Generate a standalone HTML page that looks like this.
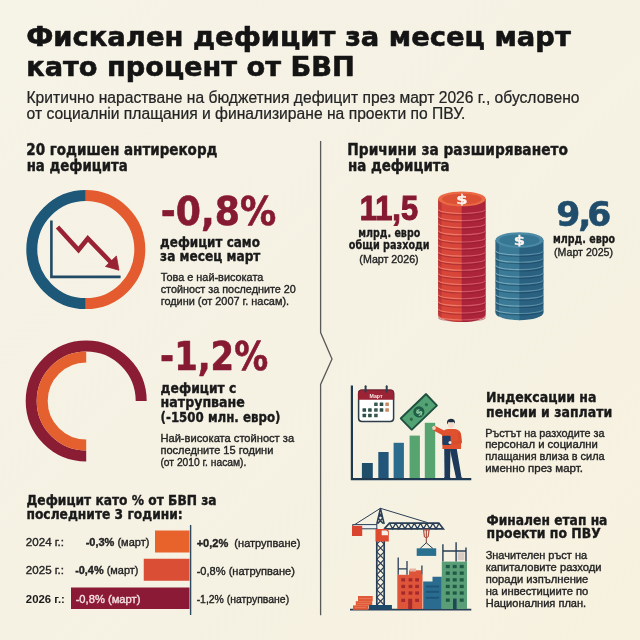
<!DOCTYPE html>
<html lang="bg"><head><meta charset="utf-8"><title>Фискален дефицит за месец март</title>
<style>html,body{margin:0;padding:0;background:#f5f2e5;}svg{display:block}</style></head>
<body>
<svg width="640" height="640" viewBox="0 0 640 640">
<defs><linearGradient id="bgg" x1="0" y1="0" x2="1" y2="1"><stop offset="0" stop-color="#f6f3e7"/><stop offset="0.5" stop-color="#f5f2e4"/><stop offset="1" stop-color="#f7f1df"/></linearGradient></defs>
<rect width="640" height="640" fill="url(#bgg)"/>
<path d="M320.6 141 V332.5 L332 359 L320.6 384.5 V615.3" fill="none" stroke="#5a5a58" stroke-width="1.3"/>
<path d="M85.80 303.60 A54 54 0 0 1 85.80 195.60" fill="none" stroke="#1e5878" stroke-width="11"/>
<path d="M85.80 195.60 A54 54 0 0 1 85.80 303.60" fill="none" stroke="#e45b2f" stroke-width="11"/>
<path d="M51.4 220.6 V276.9 H120.6" fill="none" stroke="#234a64" stroke-width="2.6"/>
<path d="M57.5 227 L78.5 250 L87.8 238.5 L112 263.5" fill="none" stroke="#992334" stroke-width="4.6" stroke-linejoin="miter"/>
<path d="M105.4 266.4 L116.4 256 L119 270.2 Z" fill="#992334" stroke="#992334" stroke-width="0.8" stroke-linejoin="round"/>
<path d="M86.20 456.00 A55 55 0 1 1 141.20 401.00" fill="none" stroke="#8a1c34" stroke-width="11"/>
<path d="M86.20 445.00 A44 44 0 0 1 86.20 357.00" fill="none" stroke="#e4602f" stroke-width="11"/>
<rect x="155" y="530.5" width="34.5" height="22" fill="#e8622c"/>
<rect x="143.75" y="558.75" width="45.75" height="22" fill="#d94e34"/>
<rect x="71" y="587.5" width="118.5" height="21.5" fill="#8a1a35"/>
<line x1="190.6" y1="525" x2="190.6" y2="615" stroke="#2e4a60" stroke-width="1.4"/>
<path d="M438.09999999999997 198.9 V314.6 A23.8 7.4 0 0 0 461.9 322.0 V198.9 Z" fill="#d8463a"/>
<path d="M461.5 198.9 V322.0 L461.9 322.0 A23.8 7.4 0 0 0 485.7 314.6 V198.9 Z" fill="#ab2439"/>
<path d="M438.09999999999997 198.9 V314.6 A23.8 7.4 0 0 0 441.59999999999997 319.04 V198.9 Z" fill="#a52a33" opacity="0.5"/>
<path d="M438.49999999999994 210.90 A23.400000000000002 4.0 0 0 0 485.3 210.90" fill="none" stroke="#8e1d2c" stroke-width="1.2" opacity="0.45"/>
<path d="M438.49999999999994 209.50 A23.400000000000002 4.0 0 0 0 461.9 213.50" fill="none" stroke="#ef7d69" stroke-width="1.05" opacity="0.9"/>
<path d="M461.9 213.50 A23.400000000000002 4.0 0 0 0 485.3 209.50" fill="none" stroke="#d9586a" stroke-width="1.05" opacity="0.9"/>
<path d="M438.49999999999994 218.00 A23.400000000000002 4.0 0 0 0 485.3 218.00" fill="none" stroke="#8e1d2c" stroke-width="1.2" opacity="0.45"/>
<path d="M438.49999999999994 216.60 A23.400000000000002 4.0 0 0 0 461.9 220.60" fill="none" stroke="#ef7d69" stroke-width="1.05" opacity="0.9"/>
<path d="M461.9 220.60 A23.400000000000002 4.0 0 0 0 485.3 216.60" fill="none" stroke="#d9586a" stroke-width="1.05" opacity="0.9"/>
<path d="M438.49999999999994 225.10 A23.400000000000002 4.0 0 0 0 485.3 225.10" fill="none" stroke="#8e1d2c" stroke-width="1.2" opacity="0.45"/>
<path d="M438.49999999999994 223.70 A23.400000000000002 4.0 0 0 0 461.9 227.70" fill="none" stroke="#ef7d69" stroke-width="1.05" opacity="0.9"/>
<path d="M461.9 227.70 A23.400000000000002 4.0 0 0 0 485.3 223.70" fill="none" stroke="#d9586a" stroke-width="1.05" opacity="0.9"/>
<path d="M438.49999999999994 232.20 A23.400000000000002 4.0 0 0 0 485.3 232.20" fill="none" stroke="#8e1d2c" stroke-width="1.2" opacity="0.45"/>
<path d="M438.49999999999994 230.80 A23.400000000000002 4.0 0 0 0 461.9 234.80" fill="none" stroke="#ef7d69" stroke-width="1.05" opacity="0.9"/>
<path d="M461.9 234.80 A23.400000000000002 4.0 0 0 0 485.3 230.80" fill="none" stroke="#d9586a" stroke-width="1.05" opacity="0.9"/>
<path d="M438.49999999999994 239.30 A23.400000000000002 4.0 0 0 0 485.3 239.30" fill="none" stroke="#8e1d2c" stroke-width="1.2" opacity="0.45"/>
<path d="M438.49999999999994 237.90 A23.400000000000002 4.0 0 0 0 461.9 241.90" fill="none" stroke="#ef7d69" stroke-width="1.05" opacity="0.9"/>
<path d="M461.9 241.90 A23.400000000000002 4.0 0 0 0 485.3 237.90" fill="none" stroke="#d9586a" stroke-width="1.05" opacity="0.9"/>
<path d="M438.49999999999994 246.40 A23.400000000000002 4.0 0 0 0 485.3 246.40" fill="none" stroke="#8e1d2c" stroke-width="1.2" opacity="0.45"/>
<path d="M438.49999999999994 245.00 A23.400000000000002 4.0 0 0 0 461.9 249.00" fill="none" stroke="#ef7d69" stroke-width="1.05" opacity="0.9"/>
<path d="M461.9 249.00 A23.400000000000002 4.0 0 0 0 485.3 245.00" fill="none" stroke="#d9586a" stroke-width="1.05" opacity="0.9"/>
<path d="M438.49999999999994 253.50 A23.400000000000002 4.0 0 0 0 485.3 253.50" fill="none" stroke="#8e1d2c" stroke-width="1.2" opacity="0.45"/>
<path d="M438.49999999999994 252.10 A23.400000000000002 4.0 0 0 0 461.9 256.10" fill="none" stroke="#ef7d69" stroke-width="1.05" opacity="0.9"/>
<path d="M461.9 256.10 A23.400000000000002 4.0 0 0 0 485.3 252.10" fill="none" stroke="#d9586a" stroke-width="1.05" opacity="0.9"/>
<path d="M438.49999999999994 260.60 A23.400000000000002 4.0 0 0 0 485.3 260.60" fill="none" stroke="#8e1d2c" stroke-width="1.2" opacity="0.45"/>
<path d="M438.49999999999994 259.20 A23.400000000000002 4.0 0 0 0 461.9 263.20" fill="none" stroke="#ef7d69" stroke-width="1.05" opacity="0.9"/>
<path d="M461.9 263.20 A23.400000000000002 4.0 0 0 0 485.3 259.20" fill="none" stroke="#d9586a" stroke-width="1.05" opacity="0.9"/>
<path d="M438.49999999999994 267.70 A23.400000000000002 4.0 0 0 0 485.3 267.70" fill="none" stroke="#8e1d2c" stroke-width="1.2" opacity="0.45"/>
<path d="M438.49999999999994 266.30 A23.400000000000002 4.0 0 0 0 461.9 270.30" fill="none" stroke="#ef7d69" stroke-width="1.05" opacity="0.9"/>
<path d="M461.9 270.30 A23.400000000000002 4.0 0 0 0 485.3 266.30" fill="none" stroke="#d9586a" stroke-width="1.05" opacity="0.9"/>
<path d="M438.49999999999994 274.80 A23.400000000000002 4.0 0 0 0 485.3 274.80" fill="none" stroke="#8e1d2c" stroke-width="1.2" opacity="0.45"/>
<path d="M438.49999999999994 273.40 A23.400000000000002 4.0 0 0 0 461.9 277.40" fill="none" stroke="#ef7d69" stroke-width="1.05" opacity="0.9"/>
<path d="M461.9 277.40 A23.400000000000002 4.0 0 0 0 485.3 273.40" fill="none" stroke="#d9586a" stroke-width="1.05" opacity="0.9"/>
<path d="M438.49999999999994 281.90 A23.400000000000002 4.0 0 0 0 485.3 281.90" fill="none" stroke="#8e1d2c" stroke-width="1.2" opacity="0.45"/>
<path d="M438.49999999999994 280.50 A23.400000000000002 4.0 0 0 0 461.9 284.50" fill="none" stroke="#ef7d69" stroke-width="1.05" opacity="0.9"/>
<path d="M461.9 284.50 A23.400000000000002 4.0 0 0 0 485.3 280.50" fill="none" stroke="#d9586a" stroke-width="1.05" opacity="0.9"/>
<path d="M438.49999999999994 289.00 A23.400000000000002 4.0 0 0 0 485.3 289.00" fill="none" stroke="#8e1d2c" stroke-width="1.2" opacity="0.45"/>
<path d="M438.49999999999994 287.60 A23.400000000000002 4.0 0 0 0 461.9 291.60" fill="none" stroke="#ef7d69" stroke-width="1.05" opacity="0.9"/>
<path d="M461.9 291.60 A23.400000000000002 4.0 0 0 0 485.3 287.60" fill="none" stroke="#d9586a" stroke-width="1.05" opacity="0.9"/>
<path d="M438.49999999999994 296.10 A23.400000000000002 4.0 0 0 0 485.3 296.10" fill="none" stroke="#8e1d2c" stroke-width="1.2" opacity="0.45"/>
<path d="M438.49999999999994 294.70 A23.400000000000002 4.0 0 0 0 461.9 298.70" fill="none" stroke="#ef7d69" stroke-width="1.05" opacity="0.9"/>
<path d="M461.9 298.70 A23.400000000000002 4.0 0 0 0 485.3 294.70" fill="none" stroke="#d9586a" stroke-width="1.05" opacity="0.9"/>
<path d="M438.49999999999994 303.20 A23.400000000000002 4.0 0 0 0 485.3 303.20" fill="none" stroke="#8e1d2c" stroke-width="1.2" opacity="0.45"/>
<path d="M438.49999999999994 301.80 A23.400000000000002 4.0 0 0 0 461.9 305.80" fill="none" stroke="#ef7d69" stroke-width="1.05" opacity="0.9"/>
<path d="M461.9 305.80 A23.400000000000002 4.0 0 0 0 485.3 301.80" fill="none" stroke="#d9586a" stroke-width="1.05" opacity="0.9"/>
<path d="M438.49999999999994 310.30 A23.400000000000002 4.0 0 0 0 485.3 310.30" fill="none" stroke="#8e1d2c" stroke-width="1.2" opacity="0.45"/>
<path d="M438.49999999999994 308.90 A23.400000000000002 4.0 0 0 0 461.9 312.90" fill="none" stroke="#ef7d69" stroke-width="1.05" opacity="0.9"/>
<path d="M461.9 312.90 A23.400000000000002 4.0 0 0 0 485.3 308.90" fill="none" stroke="#d9586a" stroke-width="1.05" opacity="0.9"/>
<path d="M438.49999999999994 317.40 A23.400000000000002 4.0 0 0 0 485.3 317.40" fill="none" stroke="#8e1d2c" stroke-width="1.2" opacity="0.45"/>
<path d="M438.49999999999994 316.00 A23.400000000000002 4.0 0 0 0 461.9 320.00" fill="none" stroke="#ef7d69" stroke-width="1.05" opacity="0.9"/>
<path d="M461.9 320.00 A23.400000000000002 4.0 0 0 0 485.3 316.00" fill="none" stroke="#d9586a" stroke-width="1.05" opacity="0.9"/>
<ellipse cx="461.9" cy="198.9" rx="23.8" ry="7.4" fill="#ea6a45"/>
<ellipse cx="461.9" cy="199.1" rx="19.99" ry="5.48" fill="#dd5234"/>
<text x="0" y="0" transform="translate(461.9 203.6) scale(1.3 1)" font-family="'DejaVu Sans', sans-serif" font-weight="700" font-size="12.5" fill="#fbf3ee" stroke="#fbf3ee" stroke-width="0.3" text-anchor="middle">$</text>
<path d="M495.5 240 V312.4 A24 7.8 0 0 0 519.5 320.2 V240 Z" fill="#3b7a96"/>
<path d="M519.1 240 V320.2 L519.5 320.2 A24 7.8 0 0 0 543.5 312.4 V240 Z" fill="#2a6080"/>
<path d="M495.5 240 V312.4 A24 7.8 0 0 0 499.0 317.08 V240 Z" fill="#1f4f6a" opacity="0.5"/>
<path d="M495.9 252.40 A23.6 4.0 0 0 0 543.1 252.40" fill="none" stroke="#173f58" stroke-width="1.2" opacity="0.45"/>
<path d="M495.9 251.00 A23.6 4.0 0 0 0 519.5 255.00" fill="none" stroke="#7fb0c2" stroke-width="1.05" opacity="0.9"/>
<path d="M519.5 255.00 A23.6 4.0 0 0 0 543.1 251.00" fill="none" stroke="#5f93ab" stroke-width="1.05" opacity="0.9"/>
<path d="M495.9 259.70 A23.6 4.0 0 0 0 543.1 259.70" fill="none" stroke="#173f58" stroke-width="1.2" opacity="0.45"/>
<path d="M495.9 258.30 A23.6 4.0 0 0 0 519.5 262.30" fill="none" stroke="#7fb0c2" stroke-width="1.05" opacity="0.9"/>
<path d="M519.5 262.30 A23.6 4.0 0 0 0 543.1 258.30" fill="none" stroke="#5f93ab" stroke-width="1.05" opacity="0.9"/>
<path d="M495.9 267.00 A23.6 4.0 0 0 0 543.1 267.00" fill="none" stroke="#173f58" stroke-width="1.2" opacity="0.45"/>
<path d="M495.9 265.60 A23.6 4.0 0 0 0 519.5 269.60" fill="none" stroke="#7fb0c2" stroke-width="1.05" opacity="0.9"/>
<path d="M519.5 269.60 A23.6 4.0 0 0 0 543.1 265.60" fill="none" stroke="#5f93ab" stroke-width="1.05" opacity="0.9"/>
<path d="M495.9 274.30 A23.6 4.0 0 0 0 543.1 274.30" fill="none" stroke="#173f58" stroke-width="1.2" opacity="0.45"/>
<path d="M495.9 272.90 A23.6 4.0 0 0 0 519.5 276.90" fill="none" stroke="#7fb0c2" stroke-width="1.05" opacity="0.9"/>
<path d="M519.5 276.90 A23.6 4.0 0 0 0 543.1 272.90" fill="none" stroke="#5f93ab" stroke-width="1.05" opacity="0.9"/>
<path d="M495.9 281.60 A23.6 4.0 0 0 0 543.1 281.60" fill="none" stroke="#173f58" stroke-width="1.2" opacity="0.45"/>
<path d="M495.9 280.20 A23.6 4.0 0 0 0 519.5 284.20" fill="none" stroke="#7fb0c2" stroke-width="1.05" opacity="0.9"/>
<path d="M519.5 284.20 A23.6 4.0 0 0 0 543.1 280.20" fill="none" stroke="#5f93ab" stroke-width="1.05" opacity="0.9"/>
<path d="M495.9 288.90 A23.6 4.0 0 0 0 543.1 288.90" fill="none" stroke="#173f58" stroke-width="1.2" opacity="0.45"/>
<path d="M495.9 287.50 A23.6 4.0 0 0 0 519.5 291.50" fill="none" stroke="#7fb0c2" stroke-width="1.05" opacity="0.9"/>
<path d="M519.5 291.50 A23.6 4.0 0 0 0 543.1 287.50" fill="none" stroke="#5f93ab" stroke-width="1.05" opacity="0.9"/>
<path d="M495.9 296.20 A23.6 4.0 0 0 0 543.1 296.20" fill="none" stroke="#173f58" stroke-width="1.2" opacity="0.45"/>
<path d="M495.9 294.80 A23.6 4.0 0 0 0 519.5 298.80" fill="none" stroke="#7fb0c2" stroke-width="1.05" opacity="0.9"/>
<path d="M519.5 298.80 A23.6 4.0 0 0 0 543.1 294.80" fill="none" stroke="#5f93ab" stroke-width="1.05" opacity="0.9"/>
<path d="M495.9 303.50 A23.6 4.0 0 0 0 543.1 303.50" fill="none" stroke="#173f58" stroke-width="1.2" opacity="0.45"/>
<path d="M495.9 302.10 A23.6 4.0 0 0 0 519.5 306.10" fill="none" stroke="#7fb0c2" stroke-width="1.05" opacity="0.9"/>
<path d="M519.5 306.10 A23.6 4.0 0 0 0 543.1 302.10" fill="none" stroke="#5f93ab" stroke-width="1.05" opacity="0.9"/>
<path d="M495.9 310.80 A23.6 4.0 0 0 0 543.1 310.80" fill="none" stroke="#173f58" stroke-width="1.2" opacity="0.45"/>
<path d="M495.9 309.40 A23.6 4.0 0 0 0 519.5 313.40" fill="none" stroke="#7fb0c2" stroke-width="1.05" opacity="0.9"/>
<path d="M519.5 313.40 A23.6 4.0 0 0 0 543.1 309.40" fill="none" stroke="#5f93ab" stroke-width="1.05" opacity="0.9"/>
<ellipse cx="519.5" cy="240" rx="24" ry="7.8" fill="#4b8ba6"/>
<ellipse cx="519.5" cy="240.2" rx="20.16" ry="5.77" fill="#377793"/>
<text x="0" y="0" transform="translate(519.5 244.6) scale(1.3 1)" font-family="'DejaVu Sans', sans-serif" font-weight="700" font-size="12.5" fill="#fbf3ee" stroke="#fbf3ee" stroke-width="0.3" text-anchor="middle">$</text>
<rect x="361.9" y="463" width="10.9" height="15.5" fill="#1f4e6b"/>
<rect x="378.3" y="452" width="10.3" height="26.5" fill="#22557a"/>
<rect x="393.6" y="442.8" width="10.3" height="35.7" fill="#2b6b8d"/>
<rect x="409.6" y="435.6" width="10.3" height="42.9" fill="#58a470"/>
<rect x="424.8" y="422.8" width="10.4" height="55.7" fill="#58a470"/>
<path d="M351.9 385.6 V479.2 H471.3" fill="none" stroke="#1f3a50" stroke-width="2.2"/>
<rect x="358.6" y="390.2" width="35" height="31.3" rx="3.2" fill="#ffffff" stroke="#2d3e4a" stroke-width="1.5"/>
<path d="M358.6 399.8 V393.4 Q358.6 390.2 361.8 390.2 H390.4 Q393.6 390.2 393.6 393.4 V399.8 Z" fill="#9b2335"/>
<path d="M358.6 399.8 V393.4 Q358.6 390.2 361.8 390.2 H390.4 Q393.6 390.2 393.6 393.4 V399.8" fill="none" stroke="#8a1f30" stroke-width="1.2"/>
<line x1="365.6" y1="386.3" x2="365.6" y2="391.8" stroke="#2d3e4a" stroke-width="2" stroke-linecap="round"/>
<line x1="386.7" y1="386.3" x2="386.7" y2="391.8" stroke="#2d3e4a" stroke-width="2" stroke-linecap="round"/>
<text x="376" y="397.7" font-family="'Liberation Sans', sans-serif" font-weight="700" font-size="5.8" fill="#fbeaea" text-anchor="middle" textLength="13" lengthAdjust="spacingAndGlyphs">Март</text>
<rect x="374.1" y="402.6" width="3.6" height="3.4" rx="0.5" fill="#3e5a55"/>
<rect x="379.7" y="402.6" width="3.6" height="3.4" rx="0.5" fill="#2f5048"/>
<rect x="385.3" y="402.6" width="3.6" height="3.4" rx="0.5" fill="#c98a60"/>
<rect x="362.5" y="408.3" width="3.6" height="3.4" rx="0.5" fill="#2f5048"/>
<rect x="368.1" y="408.3" width="3.6" height="3.4" rx="0.5" fill="#2f5048"/>
<rect x="374.1" y="408.3" width="3.6" height="3.4" rx="0.5" fill="#3e5a55"/>
<rect x="379.7" y="408.3" width="3.6" height="3.4" rx="0.5" fill="#2f5048"/>
<rect x="385.3" y="408.3" width="3.6" height="3.4" rx="0.5" fill="#c98a60"/>
<rect x="362.5" y="413.8" width="3.6" height="3.4" rx="0.5" fill="#2f5048"/>
<rect x="368.1" y="413.8" width="3.6" height="3.4" rx="0.5" fill="#2f5048"/>
<rect x="374.1" y="413.8" width="3.6" height="3.4" rx="0.5" fill="#3e5a55"/>
<g transform="translate(418.85 411.95) rotate(-44)"><rect x="-18.5" y="-8.9" width="37" height="17.8" rx="1.2" fill="#1f5040"/><rect x="-16.6" y="-7" width="33.2" height="14" fill="#53a273"/><circle cx="0" cy="0" r="5.6" fill="#1f5d45"/><circle cx="-10.5" cy="0" r="1.6" fill="#2a6b4c"/><circle cx="10.5" cy="0" r="1.6" fill="#2a6b4c"/></g>
<text x="418.85" y="415.5" font-family="'DejaVu Sans', sans-serif" font-weight="700" font-size="9" fill="#8fd0a8" text-anchor="middle" transform="rotate(-44 418.85 411.95)">$</text>
<path d="M444.2 447.5 L450.5 447.5 L450 478 L444.5 478 Z" fill="#1d3a5a"/>
<path d="M449.5 447.5 L456.5 447.5 L461.5 477.5 L456 478 Z" fill="#1d3a5a"/>
<ellipse cx="447.3" cy="478.2" rx="3.5" ry="1.2" fill="#1d3a5a"/><ellipse cx="459" cy="478.2" rx="3.5" ry="1.2" fill="#1d3a5a"/>
<path d="M442.5 449 L442 435 Q442.5 429.3 448 429 L455 429 Q460.8 429.5 461.3 436 L461 449 Z" fill="#e0522f"/>
<path d="M445.5 434 L435.2 428.6" stroke="#e0522f" stroke-width="4.8" stroke-linecap="round"/>
<circle cx="434" cy="428" r="1.9" fill="#f2d3c0"/>
<path d="M459 434 L460.2 442 L452 443" fill="none" stroke="#d84c2c" stroke-width="3.6" stroke-linecap="round" stroke-linejoin="round"/>
<rect x="442.4" y="435.8" width="8.2" height="9.2" rx="1" fill="#1d3f66"/>
<circle cx="450" cy="442.5" r="1.5" fill="#f2e6e0"/>
<ellipse cx="451" cy="424.8" rx="3" ry="3.8" fill="#f3dccd"/>
<path d="M447.3 424.5 Q446 419.5 450 418.9 Q455.5 418.4 455 423.8 L453.8 422 Q450.5 422.8 448.6 421.8 Z" fill="#1e2e40"/>
<line x1="350" y1="609.6" x2="471.3" y2="609.6" stroke="#2a3e55" stroke-width="1.6"/>
<rect x="397.3" y="574.8" width="25.2" height="34.2" fill="#df5539"/>
<rect x="409" y="570.3" width="12" height="5" fill="#df5539"/>
<rect x="409.5" y="568.5" width="6.5" height="3" fill="#e6b3a3"/>
<rect x="401.3" y="578.2" width="3.8" height="3.3" fill="#a62a2c"/>
<rect x="408.6" y="578.2" width="3.8" height="3.3" fill="#a62a2c"/>
<rect x="415.2" y="578.2" width="3.8" height="3.3" fill="#a62a2c"/>
<rect x="401.3" y="584.8" width="3.8" height="3.3" fill="#a62a2c"/>
<rect x="408.6" y="584.8" width="3.8" height="3.3" fill="#a62a2c"/>
<rect x="415.2" y="584.8" width="3.8" height="3.3" fill="#a62a2c"/>
<rect x="401.3" y="591.4" width="3.8" height="3.3" fill="#a62a2c"/>
<rect x="408.6" y="591.4" width="3.8" height="3.3" fill="#a62a2c"/>
<rect x="415.2" y="591.4" width="3.8" height="3.3" fill="#a62a2c"/>
<rect x="401.3" y="598.7" width="3.8" height="3.3" fill="#a62a2c"/>
<rect x="415.2" y="598.7" width="3.8" height="3.3" fill="#a62a2c"/>
<rect x="408.2" y="598.7" width="4" height="10.3" fill="#a62a2c"/>
<path d="M398.2 557.6 V574.8 M407 560.9 V574.8 M421.9 565.5 V574.8 M398.2 568.9 H407" stroke="#2a3e55" stroke-width="1.3" fill="none"/>
<path d="M423.2 609 V581.5 H432.5 V576.8 H441.8 V609 Z" fill="#2a6b90"/>
<rect x="425.9" y="585.5" width="13.2" height="2" fill="#1f5578"/>
<rect x="425.9" y="590.8" width="13.2" height="2" fill="#1f5578"/>
<rect x="425.9" y="596.8" width="13.2" height="2" fill="#1f5578"/>
<rect x="441.8" y="561.6" width="25.2" height="47.4" fill="#5a9e78"/>
<rect x="445.8" y="564.9" width="4" height="3.3" fill="#1f5a45"/>
<rect x="452.7" y="564.9" width="4" height="3.3" fill="#1f5a45"/>
<rect x="459.7" y="564.9" width="4" height="3.3" fill="#1f5a45"/>
<rect x="445.8" y="571.5" width="4" height="3.3" fill="#1f5a45"/>
<rect x="452.7" y="571.5" width="4" height="3.3" fill="#1f5a45"/>
<rect x="459.7" y="571.5" width="4" height="3.3" fill="#1f5a45"/>
<rect x="445.8" y="578.2" width="4" height="3.3" fill="#1f5a45"/>
<rect x="452.7" y="578.2" width="4" height="3.3" fill="#1f5a45"/>
<rect x="459.7" y="578.2" width="4" height="3.3" fill="#1f5a45"/>
<rect x="445.8" y="584.8" width="4" height="3.3" fill="#1f5a45"/>
<rect x="452.7" y="584.8" width="4" height="3.3" fill="#1f5a45"/>
<rect x="459.7" y="584.8" width="4" height="3.3" fill="#1f5a45"/>
<rect x="445.8" y="591.4" width="4" height="3.3" fill="#1f5a45"/>
<rect x="452.7" y="591.4" width="4" height="3.3" fill="#1f5a45"/>
<rect x="459.7" y="591.4" width="4" height="3.3" fill="#1f5a45"/>
<rect x="445.8" y="598.5" width="4" height="3.3" fill="#1f5a45"/>
<rect x="459.7" y="598.5" width="4" height="3.3" fill="#1f5a45"/>
<rect x="453" y="598.5" width="3.6" height="10.5" fill="#1f4a55"/>
<rect x="457.7" y="552.3" width="6.7" height="8" fill="#d9cbc3"/>
<path d="M442.9 544.3 V561.6 M456.1 542.3 V561.6 M466 547.6 V561.6 M442.9 551 H466" stroke="#2a3e55" stroke-width="1.4" fill="none"/>
<rect x="358" y="596" width="14.7" height="5.3" fill="#e05a38"/>
<rect x="355.8" y="601.2" width="16.4" height="4.4" fill="#e05a38"/>
<rect x="353" y="605.4" width="15.4" height="4.4" fill="#e05a38"/>
<path d="M359 598.6 H371 M357 603.4 H370 M354.5 607.6 H366" stroke="#f08a68" stroke-width="0.6"/>
<rect x="368.9" y="605" width="23" height="4.7" fill="#1d4a6a"/>
<path d="M376.8 529 V605 M384.2 529 V605" stroke="#2a3e55" stroke-width="1.7" fill="none"/>
<path d="M376.8 529.0 L384.2 536.6 M384.2 529.0 L376.8 536.6 M376.8 536.6 L384.2 544.2 M384.2 536.6 L376.8 544.2 M376.8 544.2 L384.2 551.8 M384.2 544.2 L376.8 551.8 M376.8 551.8 L384.2 559.4 M384.2 551.8 L376.8 559.4 M376.8 559.4 L384.2 567.0 M384.2 559.4 L376.8 567.0 M376.8 567.0 L384.2 574.6 M384.2 567.0 L376.8 574.6 M376.8 574.6 L384.2 582.2 M384.2 574.6 L376.8 582.2 M376.8 582.2 L384.2 589.8 M384.2 582.2 L376.8 589.8 M376.8 589.8 L384.2 597.4 M384.2 589.8 L376.8 597.4 M376.8 597.4 L384.2 605.0 M384.2 597.4 L376.8 605.0 " stroke="#2a3e55" stroke-width="1.2" fill="none"/>
<path d="M376.8 524 L380.4 508.3 L384.2 524 M378 518 L383 523.5 M382.8 518 L377.8 523.5 M378.8 513 L381.8 517 M381.8 513 L378.8 517" stroke="#2a3e55" stroke-width="1.5" fill="none"/>
<path d="M352.8 525.8 L380.4 508.3 L427.8 522.7" stroke="#2a3e55" stroke-width="1" fill="none"/>
<rect x="352.8" y="524.6" width="24" height="4.2" fill="#eef2f4" stroke="#2a3e55" stroke-width="1"/>
<path d="M384.2 528.9 H443.4 L438.8 523.1 H389.5 L384.2 528.9" stroke="#2a3e55" stroke-width="1.6" fill="none"/>
<path d="M389.5 523.1 L392.6 528.9 L395.7 523.1 M395.7 523.1 L398.8 528.9 L401.9 523.1 M401.9 523.1 L405.0 528.9 L408.1 523.1 M408.1 523.1 L411.2 528.9 L414.3 523.1 M414.3 523.1 L417.4 528.9 L420.5 523.1 M420.5 523.1 L423.6 528.9 L426.7 523.1 M426.7 523.1 L429.8 528.9 L432.9 523.1 M432.9 523.1 L436.0 528.9 L439.1 523.1 " stroke="#2a3e55" stroke-width="1.2" fill="none"/>
<rect x="352" y="525.8" width="10.2" height="10.2" fill="#d8442e"/>
<path d="M375.5 528.9 H386 Q388.8 529 388.8 532 V541.4 H375.5 Z" fill="#dd4a30"/>
<path d="M381.7 530.5 H386.2 Q388 530.6 388 533 V535.2 H381.7 Z" fill="#f6efe8"/>
<line x1="426.3" y1="528.9" x2="426.3" y2="543" stroke="#8a3a30" stroke-width="1"/>
<path d="M423.6 530 H429 L428.2 536.5 Q426.3 539 424.4 536.5 Z" fill="none" stroke="#b84a3a" stroke-width="1.2"/>
<path d="M420 548.6 L426.3 542.8 L433 548.6" stroke="#2a3e55" stroke-width="1" fill="none"/>
<rect x="416.7" y="548.3" width="19.5" height="7.6" fill="#2a7090"/>
<text x="26.18" y="46.00" font-family="'DejaVu Sans', 'Liberation Sans', sans-serif" font-size="27.2" font-weight="700" fill="#141414" textLength="544.63" lengthAdjust="spacingAndGlyphs" stroke="#141414" stroke-width="0.60" stroke-linejoin="round">Фискален дефицит за месец март</text>
<text x="26.18" y="76.00" font-family="'DejaVu Sans', 'Liberation Sans', sans-serif" font-size="27.2" font-weight="700" fill="#141414" textLength="328.63" lengthAdjust="spacingAndGlyphs" stroke="#141414" stroke-width="0.60" stroke-linejoin="round">като процент от БВП</text>
<text x="26.53" y="102.80" font-family="'Liberation Sans', 'DejaVu Sans', sans-serif" font-size="15.6" font-weight="400" fill="#242424" textLength="552.94" lengthAdjust="spacingAndGlyphs" stroke="#242424" stroke-width="0.22">Критично нарастване на бюджетния дефицит през март 2026 г., обусловено</text>
<text x="26.53" y="118.60" font-family="'Liberation Sans', 'DejaVu Sans', sans-serif" font-size="15.6" font-weight="400" fill="#242424" textLength="438.94" lengthAdjust="spacingAndGlyphs" stroke="#242424" stroke-width="0.22">от социалніи плащания и финализиране на проекти по ПВУ.</text>
<text x="26.34" y="155.20" font-family="'DejaVu Sans', 'Liberation Sans', sans-serif" font-size="15.2" font-weight="700" fill="#1a1a1a" textLength="191.11" lengthAdjust="spacingAndGlyphs" stroke="#1a1a1a" stroke-width="0.43" stroke-linejoin="round">20 годишен антирекорд</text>
<text x="26.64" y="171.00" font-family="'DejaVu Sans', 'Liberation Sans', sans-serif" font-size="15.2" font-weight="700" fill="#1a1a1a" textLength="101.11" lengthAdjust="spacingAndGlyphs" stroke="#1a1a1a" stroke-width="0.43" stroke-linejoin="round">на дефицита</text>
<text x="347.34" y="154.90" font-family="'DejaVu Sans', 'Liberation Sans', sans-serif" font-size="15.2" font-weight="700" fill="#1a1a1a" textLength="220.61" lengthAdjust="spacingAndGlyphs" stroke="#1a1a1a" stroke-width="0.43" stroke-linejoin="round">Причини за разширяването</text>
<text x="347.94" y="170.80" font-family="'DejaVu Sans', 'Liberation Sans', sans-serif" font-size="15.2" font-weight="700" fill="#1a1a1a" textLength="101.71" lengthAdjust="spacingAndGlyphs" stroke="#1a1a1a" stroke-width="0.43" stroke-linejoin="round">на дефицита</text>
<text x="160.81" y="225.00" font-family="'DejaVu Sans', 'Liberation Sans', sans-serif" font-size="39.5" font-weight="700" fill="#861a33" textLength="115.37" lengthAdjust="spacingAndGlyphs" stroke="#861a33" stroke-width="0.60" stroke-linejoin="round">-0,8%</text>
<text x="160.10" y="246.60" font-family="'DejaVu Sans', 'Liberation Sans', sans-serif" font-size="13.3" font-weight="700" fill="#1a1a1a" textLength="99.80" lengthAdjust="spacingAndGlyphs" stroke="#1a1a1a" stroke-width="0.37" stroke-linejoin="round">дефицит само</text>
<text x="160.10" y="260.80" font-family="'DejaVu Sans', 'Liberation Sans', sans-serif" font-size="13.3" font-weight="700" fill="#1a1a1a" textLength="100.30" lengthAdjust="spacingAndGlyphs" stroke="#1a1a1a" stroke-width="0.37" stroke-linejoin="round">за месец март</text>
<text x="160.65" y="280.50" font-family="'Liberation Sans', 'DejaVu Sans', sans-serif" font-size="11.7" font-weight="400" fill="#242424" textLength="102.70" lengthAdjust="spacingAndGlyphs" stroke="#242424" stroke-width="0.38">Това е най-високата</text>
<text x="160.65" y="292.80" font-family="'Liberation Sans', 'DejaVu Sans', sans-serif" font-size="11.7" font-weight="400" fill="#242424" textLength="135.20" lengthAdjust="spacingAndGlyphs" stroke="#242424" stroke-width="0.38">стойност за последните 20</text>
<text x="160.65" y="305.30" font-family="'Liberation Sans', 'DejaVu Sans', sans-serif" font-size="11.7" font-weight="400" fill="#242424" textLength="128.45" lengthAdjust="spacingAndGlyphs" stroke="#242424" stroke-width="0.38">години (от 2007 г. насам).</text>
<text x="160.09" y="369.50" font-family="'DejaVu Sans', 'Liberation Sans', sans-serif" font-size="38.5" font-weight="700" fill="#861a33" textLength="108.06" lengthAdjust="spacingAndGlyphs" stroke="#861a33" stroke-width="0.60" stroke-linejoin="round">-1,2%</text>
<text x="160.60" y="392.70" font-family="'DejaVu Sans', 'Liberation Sans', sans-serif" font-size="13.3" font-weight="700" fill="#1a1a1a" textLength="75.80" lengthAdjust="spacingAndGlyphs" stroke="#1a1a1a" stroke-width="0.37" stroke-linejoin="round">дефицит с</text>
<text x="160.60" y="407.20" font-family="'DejaVu Sans', 'Liberation Sans', sans-serif" font-size="13.3" font-weight="700" fill="#1a1a1a" textLength="84.30" lengthAdjust="spacingAndGlyphs" stroke="#1a1a1a" stroke-width="0.37" stroke-linejoin="round">натрупване</text>
<text x="160.60" y="422.20" font-family="'DejaVu Sans', 'Liberation Sans', sans-serif" font-size="13.3" font-weight="700" fill="#1a1a1a" textLength="119.80" lengthAdjust="spacingAndGlyphs" stroke="#1a1a1a" stroke-width="0.37" stroke-linejoin="round">(-1500 млн. евро)</text>
<text x="160.46" y="441.50" font-family="'Liberation Sans', 'DejaVu Sans', sans-serif" font-size="11.5" font-weight="400" fill="#242424" textLength="133.64" lengthAdjust="spacingAndGlyphs" stroke="#242424" stroke-width="0.38">Най-високата стойност за</text>
<text x="160.46" y="453.70" font-family="'Liberation Sans', 'DejaVu Sans', sans-serif" font-size="11.5" font-weight="400" fill="#242424" textLength="112.89" lengthAdjust="spacingAndGlyphs" stroke="#242424" stroke-width="0.38">последните 15 години</text>
<text x="160.46" y="466.10" font-family="'Liberation Sans', 'DejaVu Sans', sans-serif" font-size="11.5" font-weight="400" fill="#242424" textLength="85.89" lengthAdjust="spacingAndGlyphs" stroke="#242424" stroke-width="0.38">(от 2010 г. насам).</text>
<text x="26.48" y="505.30" font-family="'DejaVu Sans', 'Liberation Sans', sans-serif" font-size="14" font-weight="700" fill="#1a1a1a" textLength="190.14" lengthAdjust="spacingAndGlyphs" stroke="#1a1a1a" stroke-width="0.39" stroke-linejoin="round">Дефицит като % от БВП за</text>
<text x="26.48" y="519.30" font-family="'DejaVu Sans', 'Liberation Sans', sans-serif" font-size="14" font-weight="700" fill="#1a1a1a" textLength="156.24" lengthAdjust="spacingAndGlyphs" stroke="#1a1a1a" stroke-width="0.39" stroke-linejoin="round">последните 3 години:</text>
<text x="359.75" y="220.00" font-family="'Liberation Sans', 'DejaVu Sans', sans-serif" font-size="35" font-weight="700" fill="#861a33" textLength="58.30" lengthAdjust="spacingAndGlyphs" stroke="#861a33" stroke-width="1.2">11,5</text>
<text x="358.23" y="237.40" font-family="'DejaVu Sans', 'Liberation Sans', sans-serif" font-size="12.2" font-weight="700" fill="#1a1a1a" textLength="62.03" lengthAdjust="spacingAndGlyphs" stroke="#1a1a1a" stroke-width="0.34" stroke-linejoin="round">млрд. евро</text>
<text x="348.83" y="249.30" font-family="'DejaVu Sans', 'Liberation Sans', sans-serif" font-size="12.2" font-weight="700" fill="#1a1a1a" textLength="80.83" lengthAdjust="spacingAndGlyphs" stroke="#1a1a1a" stroke-width="0.34" stroke-linejoin="round">общи разходи</text>
<text x="359.35" y="263.40" font-family="'Liberation Sans', 'DejaVu Sans', sans-serif" font-size="11.6" font-weight="400" fill="#242424" textLength="59.30" lengthAdjust="spacingAndGlyphs" stroke="#242424" stroke-width="0.38">(Март 2026)</text>
<text x="552.93" y="242.60" font-family="'DejaVu Sans', 'Liberation Sans', sans-serif" font-size="12.2" font-weight="700" fill="#1a1a1a" textLength="62.13" lengthAdjust="spacingAndGlyphs" stroke="#1a1a1a" stroke-width="0.34" stroke-linejoin="round">млрд. евро</text>
<text x="554.05" y="256.20" font-family="'Liberation Sans', 'DejaVu Sans', sans-serif" font-size="11.6" font-weight="400" fill="#242424" textLength="59.00" lengthAdjust="spacingAndGlyphs" stroke="#242424" stroke-width="0.38">(Март 2025)</text>
<text x="486.10" y="401.80" font-family="'DejaVu Sans', 'Liberation Sans', sans-serif" font-size="13.4" font-weight="700" fill="#1a1a1a" textLength="110.30" lengthAdjust="spacingAndGlyphs" stroke="#1a1a1a" stroke-width="0.38" stroke-linejoin="round">Индексации на</text>
<text x="486.10" y="417.00" font-family="'DejaVu Sans', 'Liberation Sans', sans-serif" font-size="13.4" font-weight="700" fill="#1a1a1a" textLength="126.05" lengthAdjust="spacingAndGlyphs" stroke="#1a1a1a" stroke-width="0.38" stroke-linejoin="round">пенсии и заплати</text>
<text x="485.16" y="436.50" font-family="'Liberation Sans', 'DejaVu Sans', sans-serif" font-size="11.2" font-weight="400" fill="#242424" textLength="119.42" lengthAdjust="spacingAndGlyphs" stroke="#242424" stroke-width="0.38">Ръстът на разходите за</text>
<text x="485.16" y="448.10" font-family="'Liberation Sans', 'DejaVu Sans', sans-serif" font-size="11.2" font-weight="400" fill="#242424" textLength="112.67" lengthAdjust="spacingAndGlyphs" stroke="#242424" stroke-width="0.38">персонал и социални</text>
<text x="485.16" y="459.80" font-family="'Liberation Sans', 'DejaVu Sans', sans-serif" font-size="11.2" font-weight="400" fill="#242424" textLength="119.42" lengthAdjust="spacingAndGlyphs" stroke="#242424" stroke-width="0.38">плащания влиза в сила</text>
<text x="485.16" y="471.60" font-family="'Liberation Sans', 'DejaVu Sans', sans-serif" font-size="11.2" font-weight="400" fill="#242424" textLength="97.67" lengthAdjust="spacingAndGlyphs" stroke="#242424" stroke-width="0.38">именно през март.</text>
<text x="486.60" y="525.30" font-family="'DejaVu Sans', 'Liberation Sans', sans-serif" font-size="13.4" font-weight="700" fill="#1a1a1a" textLength="120.80" lengthAdjust="spacingAndGlyphs" stroke="#1a1a1a" stroke-width="0.38" stroke-linejoin="round">Финален етап на</text>
<text x="486.60" y="538.00" font-family="'DejaVu Sans', 'Liberation Sans', sans-serif" font-size="13.4" font-weight="700" fill="#1a1a1a" textLength="114.20" lengthAdjust="spacingAndGlyphs" stroke="#1a1a1a" stroke-width="0.38" stroke-linejoin="round">проекти по ПВУ</text>
<text x="485.66" y="559.00" font-family="'Liberation Sans', 'DejaVu Sans', sans-serif" font-size="11.2" font-weight="400" fill="#242424" textLength="101.42" lengthAdjust="spacingAndGlyphs" stroke="#242424" stroke-width="0.38">Значителен ръст на</text>
<text x="485.66" y="571.20" font-family="'Liberation Sans', 'DejaVu Sans', sans-serif" font-size="11.2" font-weight="400" fill="#242424" textLength="115.92" lengthAdjust="spacingAndGlyphs" stroke="#242424" stroke-width="0.38">капиталовите разходи</text>
<text x="485.66" y="583.10" font-family="'Liberation Sans', 'DejaVu Sans', sans-serif" font-size="11.2" font-weight="400" fill="#242424" textLength="102.67" lengthAdjust="spacingAndGlyphs" stroke="#242424" stroke-width="0.38">поради изпълнение</text>
<text x="485.66" y="595.00" font-family="'Liberation Sans', 'DejaVu Sans', sans-serif" font-size="11.2" font-weight="400" fill="#242424" textLength="102.67" lengthAdjust="spacingAndGlyphs" stroke="#242424" stroke-width="0.38">на инвестициите по</text>
<text x="485.66" y="606.90" font-family="'Liberation Sans', 'DejaVu Sans', sans-serif" font-size="11.2" font-weight="400" fill="#242424" textLength="100.47" lengthAdjust="spacingAndGlyphs" stroke="#242424" stroke-width="0.38">Националния план.</text>
<text x="25.85" y="545.50" font-family="'Liberation Sans', 'DejaVu Sans', sans-serif" font-size="11.8" font-weight="400" fill="#242424" textLength="38.21" lengthAdjust="spacingAndGlyphs" stroke="#242424" stroke-width="0.38">2024 г.:</text>
<text x="25.85" y="574.00" font-family="'Liberation Sans', 'DejaVu Sans', sans-serif" font-size="11.8" font-weight="400" fill="#242424" textLength="38.21" lengthAdjust="spacingAndGlyphs" stroke="#242424" stroke-width="0.38">2025 г.:</text>
<text x="25.85" y="602.60" font-family="'Liberation Sans', 'DejaVu Sans', sans-serif" font-size="11.8" font-weight="700" fill="#1a1a1a" textLength="39.01" lengthAdjust="spacingAndGlyphs" >2026 г.:</text>
<text x="85.65" y="545.8" font-family="'Liberation Sans', 'DejaVu Sans', sans-serif" font-size="11.8" fill="#222" stroke="#222" stroke-width="0.38" textLength="63.71" lengthAdjust="spacingAndGlyphs" xml:space="preserve" style="white-space:pre"><tspan font-weight="700">-0,3%</tspan><tspan font-weight="400"> (март)</tspan></text>
<text x="75.15" y="574.3" font-family="'Liberation Sans', 'DejaVu Sans', sans-serif" font-size="11.8" fill="#222" stroke="#222" stroke-width="0.38" textLength="63.21" lengthAdjust="spacingAndGlyphs" xml:space="preserve" style="white-space:pre"><tspan font-weight="700">-0,4%</tspan><tspan font-weight="400"> (март)</tspan></text>
<text x="196.65" y="546.5" font-family="'Liberation Sans', 'DejaVu Sans', sans-serif" font-size="11.8" fill="#222" stroke="#222" stroke-width="0.38" textLength="103.71" lengthAdjust="spacingAndGlyphs" xml:space="preserve" style="white-space:pre"><tspan font-weight="700">+0,2%</tspan><tspan font-weight="400">  (натрупване)</tspan></text>
<text x="196.65" y="575" font-family="'Liberation Sans', 'DejaVu Sans', sans-serif" font-size="11.8" fill="#222" stroke="#222" stroke-width="0.38" textLength="98.21" lengthAdjust="spacingAndGlyphs" xml:space="preserve" style="white-space:pre"><tspan font-weight="400">-0,8%</tspan><tspan font-weight="400"> (натрупване)</tspan></text>
<text x="196.65" y="603.1" font-family="'Liberation Sans', 'DejaVu Sans', sans-serif" font-size="11.8" fill="#222" stroke="#222" stroke-width="0.38" textLength="92.46" lengthAdjust="spacingAndGlyphs" xml:space="preserve" style="white-space:pre"><tspan font-weight="400">-1,2%</tspan><tspan font-weight="400"> (натрупване)</tspan></text>
<text x="75.65" y="603" font-family="'Liberation Sans', 'DejaVu Sans', sans-serif" font-size="11.8" fill="#f6dfe3" stroke="#f6dfe3" stroke-width="0.38" textLength="64.71" lengthAdjust="spacingAndGlyphs" xml:space="preserve" style="white-space:pre"><tspan font-weight="400">-0,8% (март)</tspan></text>
<text x="556.3 578.2 587.2" y="226" font-family="'DejaVu Sans', 'Liberation Sans', sans-serif" font-size="34.6" font-weight="700" fill="#1f4d6b" stroke="#1f4d6b" stroke-width="0.6" stroke-linejoin="round">9,6</text>
</svg>
</body></html>
